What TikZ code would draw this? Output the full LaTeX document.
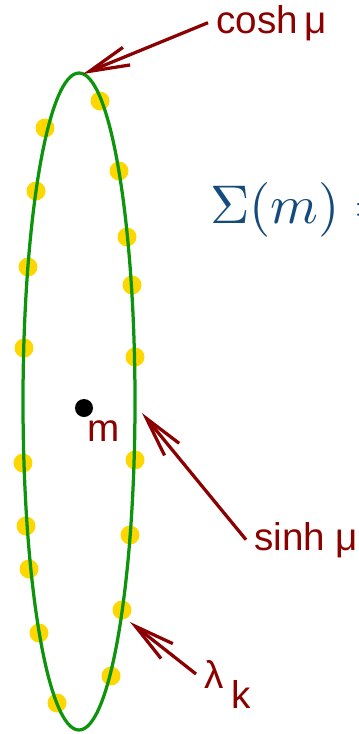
\documentclass[tikz,border=0pt]{standalone}
\usepackage{graphicx}
\usepackage[no-math]{fontspec}
\newfontfamily\labelfont{Liberation Sans}
\usetikzlibrary{arrows.meta,positioning}
\definecolor{curvegreen}{HTML}{0C940C}
\definecolor{eigyellow}{HTML}{FFD700}
\definecolor{labelred}{HTML}{8B0000}
\definecolor{sigmablue}{HTML}{154A7C}

\begin{document}
\begin{tikzpicture}[
  x=0.2mm, y=-0.2mm,
  lbl/.style={text=labelred, font=\labelfont\fontsize{22}{26}\selectfont, inner sep=1.6mm, anchor=base west},
  arr/.style={draw=labelred, line width=0.65mm, -{Straight Barb[length=8mm, width=3.8mm]}},
  eig/.style={circle, fill=eigyellow, inner sep=0pt, minimum size=3.8mm},
]
  \useasboundingbox (0,0) rectangle (358,734);

  % Eigenvalues
  \foreach \px/\py [count=\i] in {100/101, 45/128, 119/171, 36/191, 127/237,
      28/267, 132/285, 24/348, 135/357, 23/463, 135/460, 26/526, 130/535,
      29/569, 122/610, 39/633, 111/676, 57/703}
    \node[eig] (ev\i) at (\px,\py) {};

  % Spectrum boundary
  \draw[curvegreen, line width=0.65mm] (79,401.5) ellipse [x radius=56, y radius=328.5];

  % Centre
  \node[circle, fill=black, inner sep=0pt, minimum size=3.6mm] (mdot) at (84,408) {};
  \node[lbl, inner sep=0pt] (mlbl) at (87,441) {m};

  \node[text=sigmablue, anchor=base west, inner sep=0pt]
    (sigma) at (210,223) {\scalebox{3.1}{$\Sigma(m)=$}};

  % Labels
  \node[lbl] (cosh) at (208,33) {cosh\,μ};
  \node[lbl] (sinh) at (246,550) {sinh μ};
  \node[lbl] (lam) at (196,688) {λ};
  \node[lbl, inner sep=0pt] (sub) at (231,708) {k};

  \coordinate (top) at (83,74);
  \coordinate (side) at (142,413);
  \coordinate (eig) at (130,622);
  \draw[arr] (cosh.west) -- (top);
  \draw[arr] (sinh.west) -- (side);
  \draw[arr] (lam.west) -- (eig);
\end{tikzpicture}
\end{document}
